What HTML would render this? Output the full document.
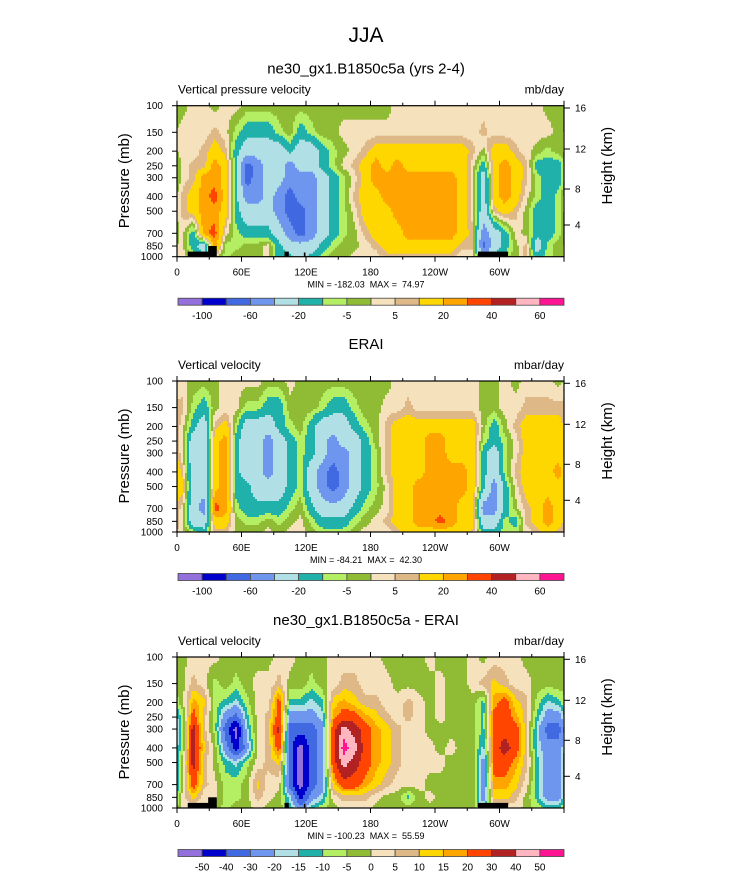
<!DOCTYPE html>
<html><head><meta charset="utf-8"><style>
body{margin:0;background:#fff;}
svg text{font-family:"Liberation Sans",Arial,sans-serif;fill:#000;white-space:pre;}
</style></head><body>
<svg id="fig" width="733" height="888" viewBox="0 0 733 888" xmlns="http://www.w3.org/2000/svg">
<text x="366" y="42" font-size="21" text-anchor="middle">JJA</text>
</svg>
<script>
const pressures=[100,150,200,250,300,400,500,700,850,1000];
const xTickLabels=["0","60E","120E","180","120W","60W"];
const yTickLabels=["100","150","200","250","300","400","500","700","850","1000"];
const kmTicks=[16,12,8,4];
const levelsA=[-100,-80,-60,-40,-20,-10,-5,0,5,10,20,30,40,50,60];
const cbLabelsA=["-100","","-60","","-20","","-5","","5","","20","","40","","60"];
const levelsD=[-50,-40,-30,-20,-15,-10,-5,0,5,10,15,20,30,40,50];
const cbLabelsD=["-50","-40","-30","-20","-15","-10","-5","0","5","10","15","20","30","40","50"];
const colors=["#9370db","#0000cd","#4169e1","#6f96ee","#b0e0e6","#20b2aa","#b4ee62","#90bb34","#f5e2bd","#deb887","#ffd700","#ffa500","#ff4500","#b22222","#ffb6c1","#ff1493"];
const model=[
[-2,2,2,-2,2,2,-2,-2,-2,-2,-2,-2,-2,-2,-2,-2,-2,-2,-2,-2,2,2,2,2,2,2,2,2,2,2,2,2,2,2,-2,-2],
[2,2,2,7,2,-7,-15,-15,-15,-7,-2,-15,-7,-2,-2,2,2,2,2,2,2,2,2,2,2,2,2,2,7,2,2,2,2,2,2,-2],
[2,2,7,15,7,-15,-30,-30,-30,-30,-15,-30,-30,-15,-7,-2,2,7,15,15,15,15,15,15,15,15,15,7,-2,15,15,7,2,-2,-7,-2],
[2,7,7,25,15,-15,-70,-50,-30,-30,-50,-30,-30,-15,-7,2,7,15,25,15,25,15,15,15,15,15,15,2,-15,15,25,15,7,-15,-15,-15],
[2,7,25,25,15,-15,-70,-50,-30,-30,-50,-50,-50,-30,-15,-7,2,15,25,25,25,25,25,25,25,25,15,2,-30,15,25,15,7,-7,-15,-15],
[7,15,25,35,15,-15,-50,-50,-30,-50,-70,-50,-50,-30,-15,-7,7,15,15,25,25,25,25,25,25,25,15,2,-30,15,25,15,2,-7,-15,-7],
[7,15,25,25,15,-15,-30,-30,-30,-50,-70,-70,-50,-30,-15,-7,2,15,15,15,25,25,25,25,25,25,15,2,-30,7,15,7,-2,-15,-15,-7],
[2,-15,25,35,2,-7,-15,-15,-15,-30,-50,-70,-50,-30,-15,-7,-2,7,15,15,15,25,25,25,25,25,15,7,-50,-30,-15,2,-2,-15,-15,-7],
[2,-15,-30,25,-7,-7,-2,-2,2,-15,-30,-30,-30,-15,-7,-2,-2,2,7,15,15,15,15,15,15,15,7,7,-70,-30,-15,-2,7,-30,-7,-2],
[2,-2,-15,2,-7,-2,-2,-2,2,-15,-15,-30,-15,-7,-2,-2,2,2,2,7,7,7,7,7,7,7,2,2,-30,-15,-7,-2,7,-15,-7,-2]];
const erai=[
[2,-2,-2,-2,2,2,2,2,-2,-2,2,-2,-2,-2,-2,-2,-2,-2,-2,-2,2,2,2,2,2,2,2,2,-2,-2,2,-2,2,2,2,-2],
[7,-7,-15,-2,2,2,-7,-7,-15,-15,-2,-2,-2,-7,-15,-15,-7,-2,-2,2,2,7,2,2,2,2,2,2,-2,-2,2,2,7,7,7,7],
[2,-15,-30,7,15,-7,-30,-30,-30,-15,-7,-2,-15,-30,-30,-30,-15,-7,-2,7,15,15,15,15,15,15,15,15,-2,-15,-2,7,15,15,15,15],
[2,-30,-30,15,25,-15,-30,-30,-50,-30,-15,-7,-15,-30,-50,-30,-30,-15,-2,7,15,15,15,25,25,15,15,15,-7,-15,-7,2,15,15,15,15],
[2,-30,-30,15,25,-15,-30,-30,-50,-30,-15,-7,-15,-30,-50,-50,-30,-15,-7,7,15,15,15,25,25,15,15,15,-15,-30,-7,2,15,15,15,15],
[7,-30,-30,15,25,-15,-30,-30,-50,-30,-15,-7,-30,-50,-70,-50,-30,-15,-7,7,15,15,15,25,25,25,25,15,-15,-30,-7,7,15,15,15,25],
[15,-30,-30,15,25,-15,-15,-30,-30,-30,-15,-7,-30,-50,-70,-50,-30,-15,-7,2,15,15,25,25,25,25,25,15,-15,-50,-15,2,15,15,15,15],
[2,-30,-50,35,25,-7,-15,-15,-15,-15,-7,-2,-15,-30,-30,-30,-15,-7,-2,2,15,15,25,25,25,25,15,15,-50,-50,-15,-2,7,15,25,15],
[2,-30,-30,15,15,-2,-7,-7,-2,-7,-2,2,-7,-15,-15,-15,-7,-2,2,7,15,15,25,25,35,25,15,15,-30,-30,-7,-15,7,15,25,15],
[2,-7,-15,7,7,-2,-2,-2,2,-2,2,2,-2,-7,-7,-7,-2,2,2,2,7,15,15,15,15,15,15,7,-15,-15,-7,-7,2,7,15,7]];
const diff=[
[-2,2,2,2,-2,-2,-2,-2,-2,2,2,-2,-2,-2,2,2,2,2,2,-2,-2,-2,-2,2,-2,-2,-2,2,-2,2,2,2,-2,-2,-2,-2],
[-2,7,2,-7,-2,-7,-2,2,2,7,-2,-2,-7,-2,2,7,7,2,2,2,-2,-2,-2,-2,2,-2,-2,2,7,12,7,2,2,-2,-2,-2],
[-2,17,12,-7,-12,-17,-7,2,2,25,-12,-12,-17,-12,12,17,12,7,7,2,2,7,2,-2,2,-2,-2,-2,-12,17,25,12,7,-7,-17,-12],
[-7,25,7,-7,-25,-35,-12,2,7,25,-25,-25,-25,-17,17,25,25,17,12,7,2,7,2,-2,2,-2,-2,-2,-12,25,25,17,7,-12,-25,-25],
[-7,35,7,-7,-35,-55,-17,2,7,35,-35,-35,-35,-25,25,45,35,25,17,12,7,2,2,-2,-2,-2,-2,-2,-12,25,25,25,7,-17,-35,-35],
[-7,35,12,-2,-25,-45,-25,2,7,25,-35,-55,-35,-25,25,55,45,25,17,12,7,2,2,2,-2,2,-2,-2,-17,25,35,25,7,-17,-25,-25],
[-2,35,7,-2,-12,-17,-7,2,7,12,-35,-55,-35,-25,25,45,35,25,17,12,7,2,2,2,2,-2,-2,-2,-25,25,25,17,7,-12,-25,-25],
[-2,25,7,2,-7,-7,-2,12,2,2,-35,-55,-35,-25,12,25,25,17,12,7,2,2,2,-2,-2,-2,-2,-2,-25,17,17,12,2,-12,-25,-25],
[2,12,2,2,-7,-7,-2,7,2,-2,-17,-45,-25,-17,2,7,7,7,2,-2,-2,-12,-2,2,-2,-2,-2,-2,-25,12,12,7,-2,-12,-25,-25],
[2,2,-2,-2,-7,-2,-2,2,-2,-2,-12,-25,-12,-7,-2,2,2,2,-2,-2,-2,-2,-2,-2,-2,-2,-2,-2,-17,2,2,2,-2,-7,-12,-12]];
const minmax=[["-182.03","74.97"],["-84.21","42.30"],["-100.23","55.59"]];

const NS="http://www.w3.org/2000/svg";
const svg=document.getElementById('fig');
const X0=177,X1=564,H=151;
function el(t,a,p){const e=document.createElementNS(NS,t);for(const k in a)e.setAttribute(k,a[k]);(p||svg).appendChild(e);return e;}
function xScale(lon){return X0+(X1-X0)*lon/360;}
function yScale(p,top){return top+H*(Math.log10(p)-2);}
function sample(data,lon,p){
  const nc=data[0].length;
  let fx=(lon-5)/10; let i0=Math.floor(fx); const tx=fx-i0;
  const a=((i0%nc)+nc)%nc,b=(a+1)%nc;
  const lp=Math.log10(p);
  let j=0; while(j<pressures.length-2 && Math.log10(pressures[j+1])<lp) j++;
  let ty=(lp-Math.log10(pressures[j]))/(Math.log10(pressures[j+1])-Math.log10(pressures[j]));
  ty=Math.max(0,Math.min(1,ty));
  const r0=data[j][a]*(1-tx)+data[j][b]*tx, r1=data[j+1][a]*(1-tx)+data[j+1][b]*tx;
  return r0*(1-ty)+r1*ty;
}
function colorIdx(v,lv){let k=0;while(k<lv.length&&v>=lv[k])k++;return k;}
function panel(cfg){
  const top=cfg.top;
  const W=X1-X0;
  const g=el('g',{});
  
  
  const field=el('g',{},g);
  
  
  const step=2;
  for(let y=0;y<H;y+=step){
    const p=Math.pow(10,2+Math.min(H,y+step/2)/H);
    const cols=[];
    for(let x=0;x<W;x+=step){
      const lon=Math.min(W,x+step/2)/W*360;
      cols.push([x,colorIdx(sample(cfg.data,lon,p),cfg.levels)]);
    }
    let s=0;
    for(let k=1;k<=cols.length;k++){
      if(k===cols.length||cols[k][1]!==cols[s][1]){
        const xe=k===cols.length?W:cols[k][0];
        const r=el('rect',{x:X0+cols[s][0],y:top+y,width:xe-cols[s][0]+0.5,height:Math.min(step+0.5,H-y),fill:colors[cols[s][1]]},field);
        
        
        s=k;
      }
    }
  }
  if(cfg.land){
    const lands=[[10,31,251.6],[29,37,246],[100,104,251.6],[118,119.5,252.5],[280,308,251.6]];
    lands.forEach(l=>{const r=el('rect',{x:xScale(l[0]),y:top+(l[2]-105.7),width:xScale(l[1])-xScale(l[0]),height:256.7-l[2],fill:'#000'},g);
      
      });
  }
  const fr=el('rect',{x:X0,y:top,width:W,height:H,fill:'none',stroke:'#000','stroke-width':1.2},g);
  
  
  for(let lon=0;lon<=360;lon+=30){
    const x=xScale(lon),len=lon%60===0?5:3;
    el('line',{x1:x,x2:x,y1:top,y2:top-len,stroke:'#000','stroke-width':1},g);
    el('line',{x1:x,x2:x,y1:top+H,y2:top+H+len,stroke:'#000','stroke-width':1},g);
  }
  xTickLabels.forEach((t,i)=>{const tx=el('text',{x:xScale(i*60),y:top+H+19,'font-size':10,'text-anchor':'middle'},g);tx.textContent=t;
    
    });
  pressures.forEach((p,i)=>{const y=yScale(p,top);
    el('line',{x1:X0,x2:X0-5,y1:y,y2:y,stroke:'#000'},g);
    const tx=el('text',{x:163,y:y+3.5,'font-size':10,'text-anchor':'end'},g);tx.textContent=yTickLabels[i];
    
    });
  const kmOff={16:2.3,12:43.3,8:83.3,4:119.3};
  kmTicks.forEach(k=>{const y=top+kmOff[k];
    el('line',{x1:X1,x2:X1+6,y1:y,y2:y,stroke:'#000'},g);
    const tx=el('text',{x:575,y:y+3.5,'font-size':10},g);tx.textContent=k;
    
    });
  const yt=el('text',{x:0,y:0,'font-size':15,'text-anchor':'middle',transform:`translate(129,${top+75}) rotate(-90)`},g);yt.textContent='Pressure (mb)';
  
  
  const ht=el('text',{x:0,y:0,'font-size':15,'text-anchor':'middle',transform:`translate(612,${top+60}) rotate(-90)`},g);ht.textContent='Height (km)';
  
  
  const tt=el('text',{x:366,y:top-32,'font-size':15,'text-anchor':'middle'},g);tt.textContent=cfg.title;
  
  
  const ls=el('text',{x:178,y:top-12,'font-size':12},g);ls.textContent=cfg.left;
  
  
  const rs=el('text',{x:564,y:top-12,'font-size':12,'text-anchor':'end'},g);rs.textContent=cfg.right;
  
  
  const mm=el('text',{x:366,y:top+H+31,'font-size':9,'text-anchor':'middle'},g);mm.textContent='MIN = '+cfg.mm[0]+'  MAX =  '+cfg.mm[1];
  
  
  const cb=el('g',{},g);
  
  
  const cy=top+H+41.5,bw=(W-1)/16;
  colors.forEach((c,i)=>{const r=el('rect',{x:178+i*bw,y:cy,width:bw,height:7,fill:c,stroke:'#444','stroke-width':0.8},cb);
    
    });
  cfg.cbl.forEach((t,i)=>{if(!t)return;const tx=el('text',{x:178+(i+1)*bw,y:cy+21,'font-size':10,'text-anchor':'middle'},cb);tx.textContent=t;
    
    });
}
panel({name:'model',top:105.7,data:model,levels:levelsA,cbl:cbLabelsA,land:true,title:'ne30_gx1.B1850c5a (yrs 2-4)',left:'Vertical pressure velocity',right:'mb/day',mm:minmax[0]});
panel({name:'erai',top:381,data:erai,levels:levelsA,cbl:cbLabelsA,land:false,title:'ERAI',left:'Vertical velocity',right:'mbar/day',mm:minmax[1]});
panel({name:'difference',top:657,data:diff,levels:levelsD,cbl:cbLabelsD,land:true,title:'ne30_gx1.B1850c5a - ERAI',left:'Vertical velocity',right:'mbar/day',mm:minmax[2]});
</script>
</body></html>
